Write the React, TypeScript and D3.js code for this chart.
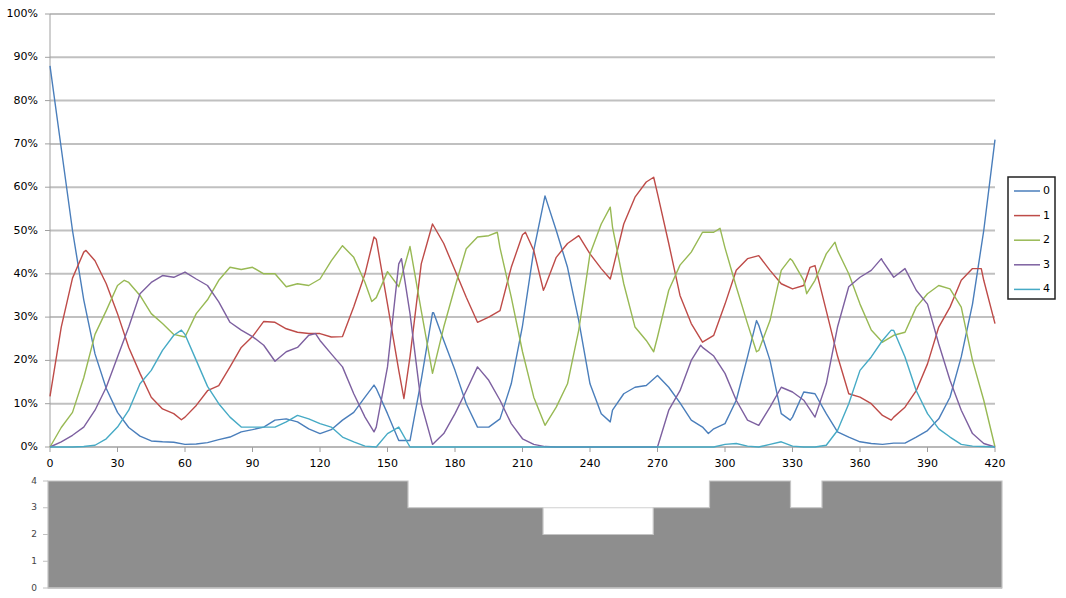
import React from "react";
import * as d3 from "d3";

const xs: number[] = d3.range(0, 421, 5);

const s0: number[] = [
  88, 69, 50, 34, 21.5, 13.5, 8, 4.5, 2.5, 1.4, 1.2, 1.1, 0.6, 0.7, 1.0,
  1.7, 2.3, 3.5, 4, 4.6, 6.2, 6.5, 5.8, 4.2, 3.1, 4, 6.2, 8, 11.5,
  13.5, 7.7, 1.5, 1.5, 15.5, 31, 24.6, 17.7, 10, 4.6, 4.6, 6.5, 14.6, 28,
  45.4, 58, 50, 41.5, 29.2, 14.6, 7.7, 8.5, 12.3, 13.8, 14.2, 16.5, 13.8, 10.2,
  6.2, 4.6, 4.2, 5.4, 10.8, 20.8, 28.1, 20, 7.7, 6.9, 12.7, 12.3, 7.7, 3.5,
  2.3, 1.2, 0.8, 0.6, 0.9, 0.9, 2.3, 3.8, 6.5, 11.5, 20.8, 33, 50, 71,
];
const s1: number[] = [
  11.7, 27.7, 39, 45, 43, 37.7, 30.8, 23, 17, 11.5, 8.8, 7.7, 6.9, 9.6, 13,
  14.2, 18.5, 23, 25.5, 29, 28.8, 27.3, 26.5, 26.2, 26.2, 25.4, 25.5, 32.4, 40,
  48, 33, 17.7, 20.8, 42.3, 51.5, 47, 40.8, 34.6, 28.8, 30, 31.5, 41.5, 49,
  45.4, 37, 43.8, 47, 48.8, 44.6, 41.2, 40.8, 51.5, 57.7, 61.2, 58.5, 47, 35,
  28.5, 24.2, 25.8, 33, 40.8, 43.5, 44.2, 40.8, 37.7, 36.5, 37.3, 41.9, 31.5, 21,
  12.3, 11.5, 10, 7.3, 6.9, 9.2, 13, 19.2, 27.7, 32.3, 38.5, 41.2, 38.5, 28.5,
];
const s2: number[] = [
  0, 4.5, 8, 16, 26, 31.5, 37.3, 38, 35, 30.8, 28.5, 26, 25.4, 30.8, 34,
  38.5, 41.5, 41, 41.5, 40, 40, 37, 37.7, 37.3, 38.8, 43, 46.5, 43.8, 38,
  34.5, 40.5, 37, 46.3, 31.5, 17, 27.7, 37, 45.8, 48.5, 48.8, 46, 34.6, 22,
  11.5, 5, 9.2, 14.6, 27, 44.6, 51.5, 50.8, 37.7, 27.7, 24.6, 25.4, 36.2, 42,
  45, 49.6, 49.6, 46, 37, 28.5, 22.3, 29.2, 40.8, 43, 38.5, 38.5, 44.6, 45.4,
  40, 33, 27, 24.2, 25.8, 26.5, 32.3, 35.4, 37.3, 36.5, 32.3, 20, 10.8, 0,
];
const s3: number[] = [
  0, 1.2, 2.7, 4.6, 8.5, 13.8, 20.8, 27.7, 35.4, 38, 39.6, 39.2, 40.4, 38.8, 37.3,
  33.5, 28.8, 27, 25.5, 23.5, 19.8, 22, 23, 25.8, 24.6, 21.5, 18.5, 12.3, 6.9,
  4.6, 18.5, 42.3, 30.8, 10, 0.6, 3.1, 7.7, 13, 18.5, 15.4, 10.8, 5.4, 1.9,
  0.6, 0.1, 0, 0, 0, 0, 0, 0, 0, 0, 0, 0, 8.5, 13,
  20, 23, 21, 17, 10.8, 6.2, 5, 9.2, 13.8, 12.7, 10.8, 6.9, 14.6, 27.7,
  37, 39.2, 40.8, 43, 39.2, 41.2, 36.2, 33, 23.8, 15.4, 8.5, 3.1, 0.8, 0,
];
const s4: number[] = [
  0, 0, 0, 0.1, 0.4, 1.9, 4.6, 8.5, 14.6, 17.7, 22.3, 25.8, 26, 20, 14,
  10, 6.9, 4.6, 4.6, 4.6, 4.6, 5.8, 7.3, 6.5, 5.4, 4.6, 2.3, 1.2, 0.2,
  0, 3.1, 4.6, 0, 0, 0, 0, 0, 0, 0, 0, 0, 0, 0,
  0, 0, 0, 0, 0, 0, 0, 0, 0, 0, 0, 0, 0, 0,
  0, 0, 0, 0.6, 0.8, 0.2, 0, 0.6, 1.2, 0.2, 0, 0, 0.4, 3.8,
  10, 17.7, 20.8, 24.6, 26.9, 20.8, 13, 7.7, 4.2, 2.3, 0.6, 0.2, 0.1, 0,
];

// extra read-off points at peaks and troughs: [x, value]
const e0: [number, number][] = [[144, 14.3], [249, 5.8], [292.6, 3.1], [314, 29.2], [329, 6.2], [170.5, 31]];
const e1: [number, number][] = [[16, 45.4], [58.4, 6.3], [144, 48.5], [157.3, 11.2], [211.3, 49.6], [219.3, 36.2], [249, 38.8], [268.3, 62.3], [373.9, 6.2], [337.8, 41.5], [413.9, 41.2]];
const e2: [number, number][] = [[33, 38.5], [143, 33.6], [198.8, 49.6], [249, 55.4], [268.3, 22], [297.8, 50.5], [314, 22], [329, 43.5], [336.3, 35.4], [348.9, 47.3]];
const e3: [number, number][] = [[118, 26.2], [144, 3.5], [156.2, 43.5], [289.2, 23.5], [269.5, 0], [369.5, 43.5]];
const e4: [number, number][] = [[58.4, 27], [373.9, 27]];

const seriesNames = ["0", "1", "2", "3", "4"];
const seriesValues = [s0, s1, s2, s3, s4];
const seriesExtras = [e0, e1, e2, e3, e4];
const seriesColors = ["#4a7ebb", "#be4b48", "#98b954", "#7d60a0", "#46aac5"];

const yTicks: number[] = d3.range(0, 1.01, 0.1);
const xTicks: number[] = d3.range(0, 421, 30);

// lower panel: step levels
const levelStarts: number[] = [0, 160, 220, 269, 294, 330, 344];
const levelValues: number[] = [4, 3, 2, 3, 4, 3, 4];
const levelEnd = 424;
const levelTicks: number[] = [0, 1, 2, 3, 4];

export default function App() {
  const W = 1066;
  const H = 598;
  const x = d3.scaleLinear().domain([0, 420]).range([50, 995]);
  const y = d3.scaleLinear().domain([0, 1]).range([447, 14]);

  const line = d3
    .line<[number, number]>()
    .x((d) => x(d[0]))
    .y((d) => y(d[1] / 100));

  const seriesPoints = seriesValues.map((vals, i) => {
    const pts: [number, number][] = vals.map((v, j) => [xs[j], v]);
    const merged = pts.concat(seriesExtras[i]);
    merged.sort((a, b) => a[0] - b[0]);
    return merged;
  });

  const bx = d3.scaleLinear().domain([0, levelEnd]).range([48, 1002]);
  const by = d3.scaleLinear().domain([0, 4]).range([588, 481]);
  const stepPts: [number, number][] = levelStarts.map((s, i) => [s, levelValues[i]]);
  stepPts.push([levelEnd, levelValues[levelValues.length - 1]]);
  const area = d3
    .area<[number, number]>()
    .x((d) => bx(d[0]))
    .y0(by(0))
    .y1((d) => by(d[1]))
    .curve(d3.curveStepAfter);

  const font = "'DejaVu Sans', Verdana, sans-serif";

  return (
    <svg
      width={W}
      height={H}
      style={{ position: "absolute", left: 0, top: 0, background: "#fff" }}
      fontFamily={font}
    >
      {yTicks.map((t) => (
        <g key={"g" + t}>
          {t > 0 && (
            <line x1={x(0)} x2={x(420)} y1={y(t)} y2={y(t)} stroke="#c0c0c0" strokeWidth={2} />
          )}
          <line x1={x(0) - 5} x2={x(0)} y1={y(t)} y2={y(t)} stroke="#a0a0a0" strokeWidth={1} />
          <text x={38} y={y(t)} textAnchor="end" dominantBaseline="middle" fontSize={11} fill="#000">
            {Math.round(t * 100) + "%"}
          </text>
        </g>
      ))}
      <line x1={x(0)} x2={x(0)} y1={y(1)} y2={y(0)} stroke="#a0a0a0" strokeWidth={1} />
      <line x1={x(0)} x2={x(420)} y1={y(0)} y2={y(0)} stroke="#a0a0a0" strokeWidth={1.5} />
      {xTicks.map((t) => (
        <g key={"x" + t}>
          <line x1={x(t)} x2={x(t)} y1={y(0)} y2={y(0) + 5} stroke="#a0a0a0" strokeWidth={1} />
          <text x={x(t)} y={464} textAnchor="middle" dominantBaseline="middle" fontSize={11} fill="#000">
            {t}
          </text>
        </g>
      ))}
      {seriesPoints.map((pts, i) => (
        <path
          key={"s" + i}
          d={line(pts) || ""}
          fill="none"
          stroke={seriesColors[i]}
          strokeWidth={1.4}
          strokeLinejoin="round"
        />
      ))}
      <rect x={1008} y={177} width={47} height={122} fill="#fff" stroke="#222" strokeWidth={1.5} />
      {seriesNames.map((n, i) => {
        const ly = 191 + i * 24.6;
        return (
          <g key={"l" + i}>
            <line x1={1014} x2={1040} y1={ly} y2={ly} stroke={seriesColors[i]} strokeWidth={1.5} />
            <text x={1043} y={ly} dominantBaseline="middle" fontSize={11} fill="#000">
              {n}
            </text>
          </g>
        );
      })}
      <path d={area(stepPts) || ""} fill="#8e8e8e" stroke="#c4c4c4" strokeWidth={1.2} />
      <line x1={bx(levelStarts[2])} x2={bx(levelStarts[3])} y1={by(3)} y2={by(3)} stroke="#d0d0d0" strokeWidth={1} />
      <line x1={bx(0)} x2={bx(levelEnd)} y1={by(0)} y2={by(0)} stroke="#c0c0c0" strokeWidth={1.5} />
      {levelTicks.map((t) => (
        <g key={"b" + t}>
          <line x1={bx(0) - 5} x2={bx(0)} y1={by(t)} y2={by(t)} stroke="#c0c0c0" strokeWidth={1} />
          <text x={37} y={by(t)} textAnchor="end" dominantBaseline="middle" fontSize={9} fill="#444">
            {t}
          </text>
        </g>
      ))}
    </svg>
  );
}
